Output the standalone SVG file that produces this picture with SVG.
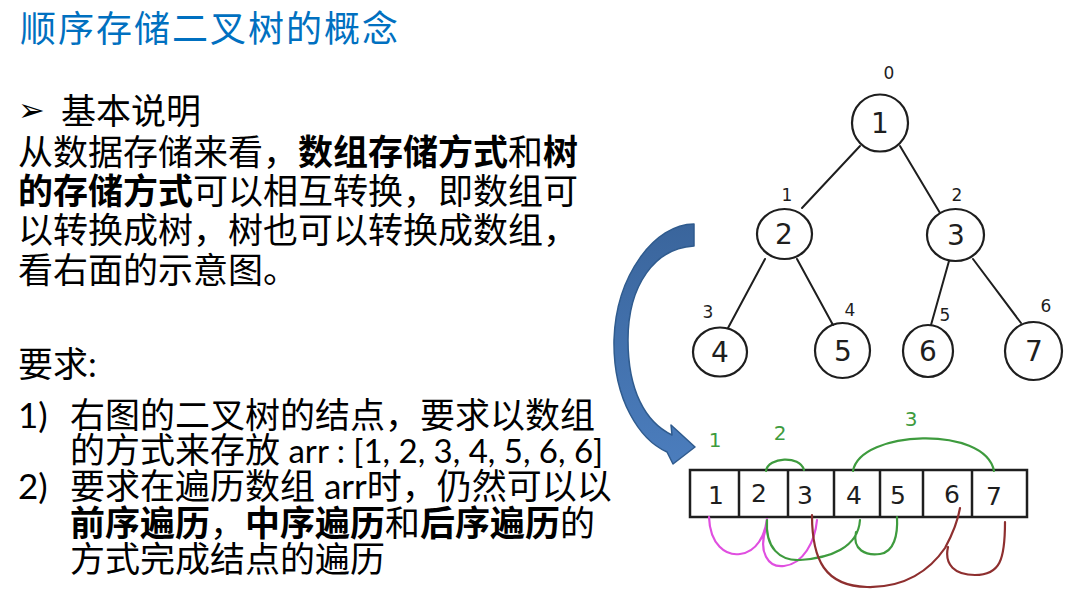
<svg xmlns="http://www.w3.org/2000/svg" width="1068" height="594" viewBox="0 0 1068 594">
<defs>
<linearGradient id="arrowGrad" x1="0" y1="0" x2="0" y2="1">
<stop offset="0" stop-color="#3A659C"/>
<stop offset="1" stop-color="#4B7DBD"/>
</linearGradient>
</defs>
<style>
.title{font-family:"Noto Sans CJK SC","Noto Sans",sans-serif;font-size:36px;letter-spacing:2px;fill:#0070C0}
.cn{font-family:"Noto Sans CJK SC","Noto Sans",sans-serif;font-size:35px;fill:#000}
.b{font-weight:700}
.lat{font-family:Lato,"Liberation Sans",sans-serif}
.node ellipse{fill:none;stroke:#1e1e1e;stroke-width:2.2}
.hand{font-family:"DejaVu Sans",sans-serif;fill:#1e1e1e;text-anchor:middle}
.idx{font-family:"DejaVu Sans",sans-serif;fill:#1e1e1e;text-anchor:middle;font-size:17px}
.edge{stroke:#1e1e1e;stroke-width:2;fill:none;stroke-linecap:round}
.cell{fill:none;stroke:#1e1e1e;stroke-width:2.5}
.grn{stroke:#3E9B3E;stroke-width:2.2;fill:none;stroke-linecap:round}
.mag{stroke:#E04FE0;stroke-width:2.2;fill:none;stroke-linecap:round}
.red{stroke:#8E2F2F;stroke-width:2.2;fill:none;stroke-linecap:round}
.gl{font-family:"DejaVu Sans",sans-serif;fill:#3E9B3E;text-anchor:middle;font-size:20px}
</style>
<rect width="1068" height="594" fill="#fff"/>

<g id="title">
<text class="title" x="20" y="42">顺序存储二叉树的概念</text>
</g>

<g id="text-intro">
<text x="18" y="121" font-family="DejaVu Sans" font-size="32" fill="#000">➢</text>
<text class="cn"><tspan x="61" y="124">基本说明</tspan><tspan x="18" y="165">从数据存储来看，<tspan class="b">数组存储方式</tspan>和<tspan class="b">树</tspan></tspan><tspan x="18" y="204"><tspan class="b">的存储方式</tspan>可以相互转换，即数组可</tspan><tspan x="18" y="243">以转换成树，树也可以转换成数组，</tspan><tspan x="18" y="283">看右面的示意图。</tspan></text>
</g>

<g id="text-req">
<text class="cn"><tspan x="18" y="377">要求<tspan class="lat">:</tspan></tspan><tspan class="lat" x="18" y="428">1)</tspan><tspan x="70" y="428">右图的二叉树的结点，要求以数组</tspan><tspan x="70" y="463">的方式来存放<tspan class="lat" font-size="33"> arr : [1, 2, 3, 4, 5, 6, 6]</tspan></tspan><tspan class="lat" x="18" y="499">2)</tspan><tspan x="70" y="499">要求在遍历数组<tspan class="lat"> arr</tspan>时，仍然可以以</tspan><tspan x="70" y="536"><tspan class="b">前序遍历</tspan>，<tspan class="b">中序遍历</tspan>和<tspan class="b">后序遍历</tspan>的</tspan><tspan x="70" y="572">方式完成结点的遍历</tspan></text>
</g>

<g id="connectors">
<line class="edge" x1="860" y1="146" x2="802" y2="208"/>
<line class="edge" x1="900" y1="146" x2="940" y2="213"/>
<line class="edge" x1="765" y1="259" x2="728" y2="328"/>
<line class="edge" x1="797" y1="259" x2="833" y2="325"/>
<line class="edge" x1="949" y1="261" x2="931" y2="325"/>
<line class="edge" x1="973" y1="259" x2="1021" y2="323"/>
</g>

<g id="node-1" class="node">
<ellipse cx="880" cy="123" rx="28" ry="28.5"/>
<text class="hand" x="880" y="133" font-size="28">1</text>
<text class="idx" x="889" y="79">0</text>
</g>
<g id="node-2" class="node">
<ellipse cx="784.5" cy="234" rx="27.5" ry="25"/>
<text class="hand" x="784" y="244" font-size="28">2</text>
<text class="idx" x="787" y="201">1</text>
</g>
<g id="node-3" class="node">
<ellipse cx="955.5" cy="235" rx="28.5" ry="26"/>
<text class="hand" x="956" y="245" font-size="28">3</text>
<text class="idx" x="957" y="201">2</text>
</g>
<g id="node-4" class="node">
<ellipse cx="720" cy="352" rx="27" ry="24.5"/>
<text class="hand" x="720" y="362" font-size="28">4</text>
<text class="idx" x="708" y="318">3</text>
</g>
<g id="node-5" class="node">
<ellipse cx="842.5" cy="350.5" rx="27.5" ry="27.5"/>
<text class="hand" x="843" y="361" font-size="28">5</text>
<text class="idx" x="850" y="316">4</text>
</g>
<g id="node-6" class="node">
<ellipse cx="928" cy="351" rx="25" ry="26"/>
<text class="hand" x="928" y="361" font-size="28">6</text>
<text class="idx" x="945" y="321">5</text>
</g>
<g id="node-7" class="node">
<ellipse cx="1033.5" cy="351" rx="28.5" ry="29"/>
<text class="hand" x="1034" y="361" font-size="28">7</text>
<text class="idx" x="1046" y="312" font-size="21">6</text>
</g>

<g id="arrow">
<path d="M 694,224 C 655,224 616,275 614,340 C 613,400 640,440 667,452 L 673,464 L 695,447 L 671,425 L 672,435 C 645,422 628,390 628,340 C 628,285 655,248 694,246 Z" fill="url(#arrowGrad)" stroke="#2F5B8E" stroke-width="1.5" stroke-linejoin="round"/>
</g>

<g id="array">
<rect class="cell" x="690" y="470" width="337" height="47"/>
<line class="cell" x1="739" y1="470" x2="739" y2="517"/>
<line class="cell" x1="788" y1="470" x2="788" y2="517"/>
<line class="cell" x1="834" y1="470" x2="834" y2="517"/>
<line class="cell" x1="880" y1="470" x2="880" y2="517"/>
<line class="cell" x1="923" y1="470" x2="923" y2="517"/>
<line class="cell" x1="972" y1="470" x2="972" y2="517"/>
<text class="hand" font-size="25" x="716" y="504">1</text>
<text class="hand" font-size="25" x="759" y="502">2</text>
<text class="hand" font-size="25" x="805" y="504">3</text>
<text class="hand" font-size="25" x="854" y="504">4</text>
<text class="hand" font-size="25" x="898" y="504">5</text>
<text class="hand" font-size="25" x="952" y="503">6</text>
<text class="hand" font-size="25" x="994" y="505">7</text>
</g>

<g id="traversal-marks">
<text class="gl" x="715" y="447">1</text>
<text class="gl" x="780" y="440">2</text>
<text class="gl" x="911" y="426">3</text>
<path class="grn" d="M 766,471 C 768,457 800,455 804,470"/>
<path class="grn" d="M 853,471 C 860,430 985,425 994,471"/>
<path class="mag" d="M 709,517 C 710,545 726,556 740,554 C 757,552 765,535 767,519 M 766,528 C 758,552 768,568 784,566 C 803,564 815,542 817,520"/>
<path class="grn" d="M 767,520 C 765,548 780,561 800,560 C 830,558 858,548 860,520 M 856,532 C 852,550 866,556 880,554 C 894,552 898,535 897,517"/>
<path class="red" d="M 812,515 C 812,560 825,586 867,587 C 905,588 930,570 945,548 C 952,535 958,520 960,508 M 948,547 C 944,565 955,575 975,575 C 1000,575 1005,560 1005,522"/>
</g>
</svg>
